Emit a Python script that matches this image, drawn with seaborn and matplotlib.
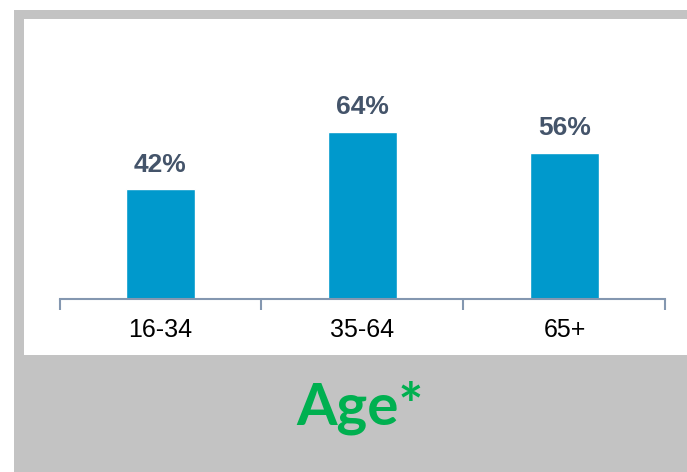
import matplotlib
matplotlib.use("Agg")
import matplotlib.pyplot as plt
from matplotlib.patches import Rectangle
import seaborn as sns
import pandas as pd

# Share of respondents by age group
age_groups = ["16-34", "35-64", "65+"]
shares = [42, 64, 56]
title_text = "Age*"

df = pd.DataFrame({"age": age_groups, "share": shares})

sns.set_theme(style="white")
plt.rcParams["font.family"] = ["Liberation Sans", "DejaVu Sans"]

W, H = 687, 472
fig = plt.figure(figsize=(W / 100, H / 100), dpi=100)
fig.patch.set_facecolor("white")

# grey frame and white chart panel
gray = "#C3C3C3"
fig.patches.append(Rectangle((14 / W, 0), 1, (H - 10) / H, transform=fig.transFigure,
                             facecolor=gray, edgecolor="none", zorder=-10))
fig.patches.append(Rectangle((24 / W, (H - 355) / H), 1, (355 - 19) / H,
                             transform=fig.transFigure, facecolor="white",
                             edgecolor="none", zorder=-9))

left_px, right_px = 59.5, 665.5
base_px, top_px = 299, 19
ax = fig.add_axes([left_px / W, (H - base_px) / H,
                   (right_px - left_px) / W, (base_px - top_px) / H])
ax.set_facecolor("none")

sns.barplot(data=df, x="age", y="share", color="#0099CC", width=0.34,
            saturation=1, ax=ax)

px_per_unit = 2.61
ax.set_xlim(-0.5, len(age_groups) - 0.5)
ax.set_ylim(0, (base_px - top_px) / px_per_unit)

for c in ax.containers:
    ax.bar_label(c, labels=[f"{v:.0f}%" for v in shares], padding=9,
                 fontsize=19, fontweight="bold", color="#44546A")

axis_color = "#8497B0"
for s in ["top", "right", "left"]:
    ax.spines[s].set_visible(False)
ax.spines["bottom"].set_color(axis_color)
ax.spines["bottom"].set_linewidth(1.5)

ax.set_yticks([])
ax.set_xticks(range(len(age_groups)))
ax.set_xticklabels(age_groups, fontsize=18, color="black")
ax.set_xticks([i - 0.5 for i in range(len(age_groups) + 1)], minor=True)
ax.tick_params(axis="x", which="major", length=0, pad=14)
ax.tick_params(axis="x", which="minor", length=8, width=1.5, color=axis_color,
               direction="out", bottom=True)
ax.set_xlabel("")
ax.set_ylabel("")

fig.text(360 / W, (H - 408) / H, title_text, ha="center", va="center",
         fontsize=42, fontweight="bold", color="#00B050",
         family=["Lato", "DejaVu Sans"])

fig.savefig("out.png", dpi=100)
